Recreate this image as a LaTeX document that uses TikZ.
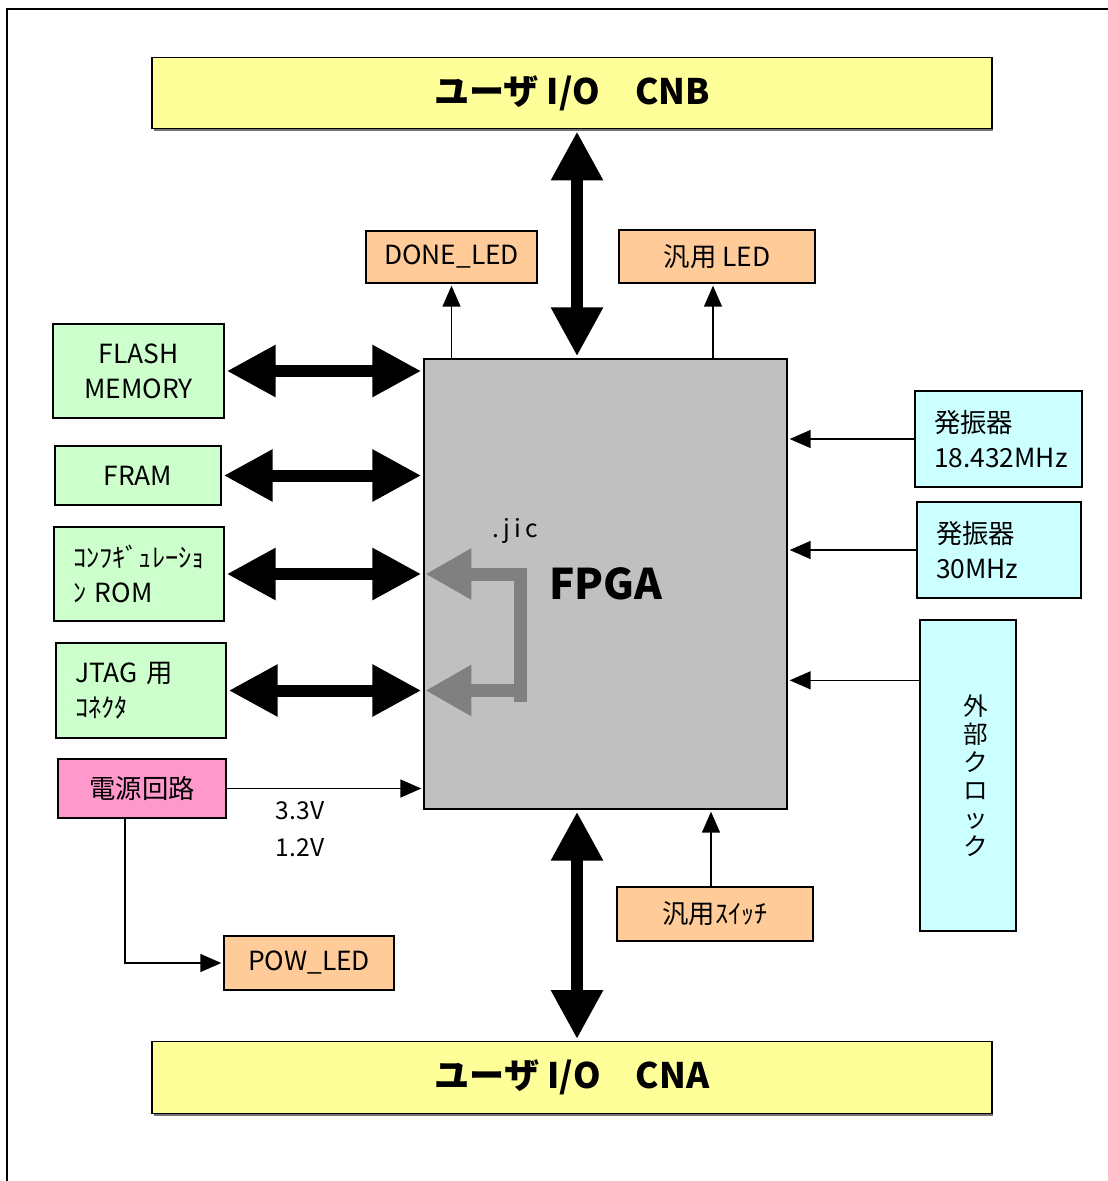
\documentclass[tikz,border=0pt]{standalone}
\usepackage{fontspec}
\setmainfont{Noto Sans CJK JP}
\usetikzlibrary{arrows.meta,shadows}

\definecolor{ioyellow}{HTML}{FFFF99}
\definecolor{ledorange}{HTML}{FFCC99}
\definecolor{memgreen}{HTML}{CCFFCC}
\definecolor{powpink}{HTML}{FF99CC}
\definecolor{osccyan}{HTML}{CCFFFF}
\definecolor{fpgagray}{HTML}{C0C0C0}
\definecolor{jicgray}{HTML}{808080}

\tikzset{
    blk/.style={draw, line width=0.8pt, inner sep=0pt, font=\fontsize{15}{20}\selectfont},
    io/.style={blk, fill=ioyellow, minimum width=16.8cm, minimum height=1.43cm,
        font=\fontsize{20}{24}\selectfont\bfseries,
        drop shadow={shadow xshift=0.03cm, shadow yshift=-0.05cm, fill=black!55, opacity=1}},
    led/.style={blk, fill=ledorange},
    mem/.style={blk, fill=memgreen},
    osc/.style={blk, fill=osccyan},
    lefttext/.style={align=left, inner xsep=0.38cm, text width=#1},
    bus/.style={line width=0.24cm, shorten <=0.04cm, shorten >=0.04cm,
        {Triangle[length=0.98cm,width=0.98cm]}-{Triangle[length=0.98cm,width=0.98cm]}},
    sig/.style={line width=0.8pt, shorten >=0.04cm, -{Triangle[length=0.42cm,width=0.36cm]}},
    jicarrow/.style={line width=0.26cm, draw=jicgray, shorten >=0.04cm,
        -{Triangle[length=0.92cm,width=0.96cm]}},
}

\begin{document}
\begin{tikzpicture}[x=0.02cm, y=-0.02cm]
    \useasboundingbox (0,0) rectangle (1108,1181);
    \draw[line width=1.1pt] (7,1181) -- (7,9) -- (1108,9);

    \node[io] (cnb) at (572,93) {ユーザ I/O　CNB};
    \node[io] (cna) at (572,1077.5) {ユーザ I/O　CNA};

    \node[blk, fill=fpgagray, minimum width=7.26cm, minimum height=9cm,
        font=\fontsize{24}{28}\selectfont\bfseries] (fpga) at (605.5,584) {FPGA};

    \node[led, minimum width=3.42cm, minimum height=1.04cm] (done) at (451.5,257) {DONE\_LED};
    \node[led, minimum width=3.92cm, minimum height=1.06cm] (gled) at (717,256.5) {汎用 LED};
    \node[led, minimum width=3.92cm, minimum height=1.08cm] (sw) at (715,914) {汎用ｽｲｯﾁ};
    \node[led, minimum width=3.4cm, minimum height=1.08cm] (powled) at (309,963) {POW\_LED};

    \node[mem, minimum width=3.42cm, minimum height=1.88cm, align=center] (flash) at (138.5,371) {FLASH\\MEMORY};
    \node[mem, minimum width=3.32cm, minimum height=1.18cm] (fram) at (138,475.5) {FRAM};
    \node[mem, lefttext=2.64cm, minimum height=1.88cm] (rom) at (139,574) {ｺﾝﾌｷﾞｭﾚｰｼｮ\\ﾝ ROM};
    \node[mem, lefttext=2.64cm, minimum height=1.9cm] (jtag) at (141,690.5) {JTAG 用\\ｺﾈｸﾀ};
    \node[blk, fill=powpink, minimum width=3.36cm, minimum height=1.18cm] (power) at (142,788.5) {電源回路};

    \node[osc, lefttext=2.58cm, minimum height=1.92cm] (osca) at (998.5,439) {発振器\\18.432MHz};
    \node[osc, lefttext=2.52cm, minimum height=1.92cm] (oscb) at (999,550) {発振器\\30MHz};
    \node[osc, minimum width=1.92cm, minimum height=6.22cm] (extclk) at (968,775.5) {};
    \node[align=center, font=\fontsize{14}{16}\selectfont] (extclklabel) at (976,775.5) {外\\部\\ク\\ロ\\ッ\\ク};

    \node[font=\fontsize{14}{16}\selectfont] (jic) at (515,531) {.\,j\,i\,c};
    \node[align=center, font=\fontsize{14}{21}\selectfont] (volt) at (300,829) {3.3V\\1.2V};

    \coordinate (busx) at (577,0);
    \coordinate (jicbot) at (520,702);

    \draw[jicarrow] (jicbot) -- (jicbot |- rom.east) -- (rom.east -| fpga.west);
    \draw[jicarrow] (jicbot |- jtag.east) -- (jtag.east -| fpga.west);

    \draw[bus] (cnb.south -| busx) -- (fpga.north -| busx);
    \draw[bus] (fpga.south -| busx) -- (cna.north -| busx);
    \draw[bus] (flash.east) -- (flash.east -| fpga.west);
    \draw[bus] (fram.east) -- (fram.east -| fpga.west);
    \draw[bus] (rom.east) -- (rom.east -| fpga.west);
    \draw[bus] (jtag.east) -- (jtag.east -| fpga.west);

    \draw[sig] (fpga.north -| done.south) -- (done.south);
    \draw[sig] ([xshift=-0.08cm]fpga.north -| gled.south) -- ([xshift=-0.08cm]gled.south);
    \draw[sig] ([xshift=-0.08cm]sw.north) -- ([xshift=-0.08cm]sw.north |- fpga.south);
    \draw[sig] (osca.west) -- (osca.west -| fpga.east);
    \draw[sig] (oscb.west) -- (oscb.west -| fpga.east);
    \draw[sig] ([yshift=-1.22cm]extclk.north west) -- ([yshift=-1.22cm]extclk.north west -| fpga.east);
    \draw[sig] (power.east) -- (power.east -| fpga.west);
    \draw[sig] ([xshift=-0.34cm]power.south) |- (powled.west);
\end{tikzpicture}
\end{document}
